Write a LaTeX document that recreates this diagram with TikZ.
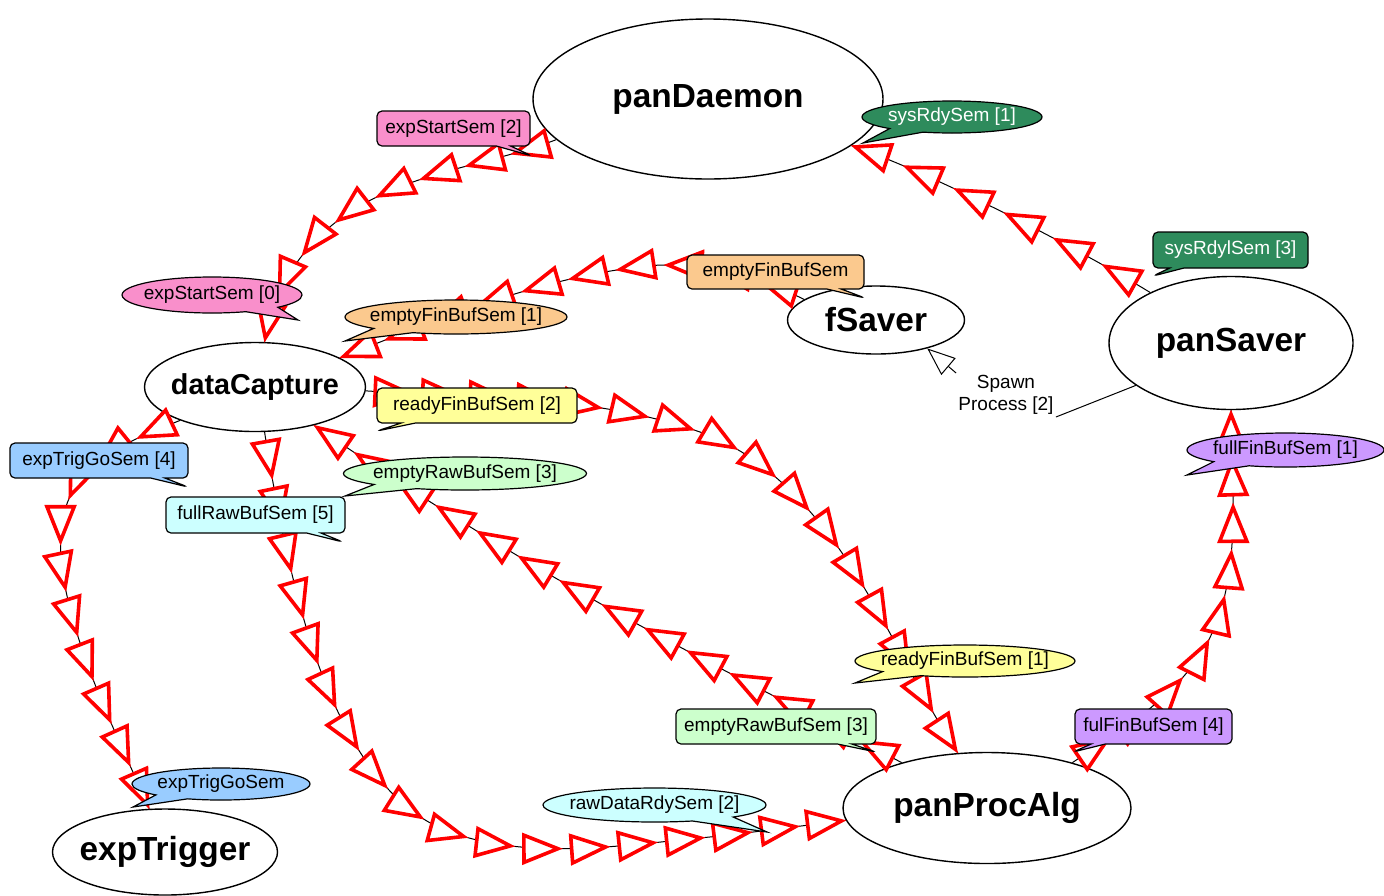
\documentclass[tikz,border=0pt]{standalone}
\usepackage{fontspec}
\setmainfont{Liberation Sans}
\usetikzlibrary{shapes.geometric,shapes.callouts,decorations.markings,arrows.meta}

\definecolor{semPink}{RGB}{249,143,203}
\definecolor{semDark}{RGB}{46,139,92}
\definecolor{semOrange}{RGB}{251,201,142}
\definecolor{semYellow}{RGB}{255,255,153}
\definecolor{semMint}{RGB}{204,255,204}
\definecolor{semSky}{RGB}{153,204,255}
\definecolor{semCyan}{RGB}{204,255,255}
\definecolor{semLilac}{RGB}{204,153,255}

% hollow red triangle placed along a semaphore connector, tip at the mark
\newcommand\semmark{\draw[red, line width=1.8pt, fill=white, line join=miter]
  (-2pt,0pt) -- (-19pt,6.8pt) -- (-19pt,-6.8pt) -- cycle;}
\newcommand\lblfont{\fontsize{9.5}{11}\selectfont}

\tikzset{
  task/.style={ellipse, draw, line width=0.7pt, fill=white, inner sep=-4pt,
    font=\fontsize{16.7}{18}\selectfont\bfseries},
  % #1 = spacing as a fraction of the path, #2 = last position before the end
  flow/.style 2 args={draw, line width=0.5pt, postaction={decorate, decoration={markings,
    mark=between positions #1 and #2 step #1 with {\semmark},
    mark=at position 0.9995 with {\semmark}}}},
  boxnote/.style={rectangle callout, draw, line width=0.6pt, rounded corners=2.5pt,
    inner sep=0pt, font=\lblfont},
  ovalnote/.style={ellipse callout, draw, line width=0.6pt, inner sep=0pt,
    callout pointer arc=25, font=\lblfont},
}

\begin{document}
\begin{tikzpicture}[x=0.5pt, y=-0.5pt]
\useasboundingbox (0,0) rectangle (1384,895);

% tasks
\node[task, minimum width=175pt, minimum height=80pt] (panDaemon) at (708,99) {panDaemon};
\node[task, minimum width=88.5pt, minimum height=34pt] (fSaver) at (876,320) {fSaver};
\node[task, minimum width=122pt, minimum height=66.5pt] (panSaver) at (1231,343) {panSaver};
\node[task, minimum width=110.5pt, minimum height=44.5pt,
      font=\fontsize{14.4}{16}\selectfont\bfseries] (dataCapture) at (255,387) {dataCapture};
\node[task, minimum width=144pt, minimum height=55.5pt] (panProcAlg) at (987,808) {panProcAlg};
\node[task, minimum width=112.5pt, minimum height=43pt] (expTrigger) at (165,852) {expTrigger};

% semaphore connectors
\draw[flow={0.125}{0.94}] (panDaemon.195)
  .. controls +(-55,21) and +(54,-25) .. (383,194)
  .. controls +(-70,32) and +(12,-65) .. (dataCapture.78);
\draw[flow={0.1667}{0.92}] (panSaver.148)
  .. controls +(-70,-43) and +(80,27) .. (panDaemon.342);
\draw[flow={0.1}{0.95}] (fSaver.164)
  .. controls +(-45,-22) and +(50,0) .. (660,265)
  .. controls +(-110,8) and +(100,-39) .. (dataCapture.19);
\draw[flow={0.0625}{0.97}] (dataCapture.358)
  .. controls +(112,7) and +(-106,-37) .. (700,432)
  .. controls +(58,20) and +(-35,-50) .. (840,550)
  .. controls +(45,65) and +(-43,-66) .. (panProcAlg.118);
\draw[flow={0.0714}{0.965}] (panProcAlg.152)
  .. controls +(-90,-48) and +(89,49) .. (630,620)
  .. controls +(-108,-59) and +(101,69) .. (dataCapture.327);
\draw[flow={0.0556}{0.972}] (dataCapture.282)
  .. controls +(11,70) and +(-21,-68) .. (310,640)
  .. controls +(24,75) and +(-74,-27) .. (450,832)
  .. controls +(78,28) and +(-83,8) .. (700,838)
  .. controls +(49,-5) and +(-49,6) .. (panProcAlg.185);
\draw[flow={0.1}{0.95}] (dataCapture.204)
  .. controls +(-39,16) and +(22,-35) .. (75,487)
  .. controls +(-20,32) and +(-9,-37) .. (68,600)
  .. controls +(17,73) and +(-30,-69) .. (expTrigger.110);
\draw[flow={0.1111}{0.944}] (panProcAlg.28)
  .. controls +(46,-31) and +(-31,47) .. (1200,655)
  .. controls +(45,-69) and +(0,82) .. (panSaver.270);

% process spawn
\node[font=\lblfont, align=center, inner sep=1pt] (spawn) at (1006,395) {Spawn\\Process [2]};
\draw[line width=0.5pt] (panSaver.204) -- (spawn.south east);
\draw[line width=0.5pt, -{Triangle[open, length=14pt, width=11pt]}] (spawn.north west) -- (fSaver.331);

% semaphore labels
\node[boxnote, fill=semPink, minimum width=76.5pt, minimum height=17.5pt,
      callout absolute pointer={(532,156)}] (lExpStart2) at (453.5,128.5) {expStartSem [2]};
\node[ovalnote, fill=semPink, minimum width=90pt, minimum height=18pt,
      callout absolute pointer={(298,320)}] (lExpStart0) at (212,295) {\makebox[0pt]{expStartSem [0]}};
\node[ovalnote, fill=semDark, text=white, minimum width=90pt, minimum height=16pt,
      callout absolute pointer={(863,143)}] (lSysRdy1) at (952,117) {\makebox[0pt]{sysRdySem [1]}};
\node[boxnote, fill=semDark, text=white, minimum width=77.5pt, minimum height=18pt,
      callout absolute pointer={(1153,276)}] (lSysRdy3) at (1230.5,250) {sysRdylSem [3]};
\node[boxnote, fill=semOrange, minimum width=88.5pt, minimum height=17pt,
      callout absolute pointer={(865,298)}] (lEmptyFin) at (775.5,272) {emptyFinBufSem};
\node[ovalnote, fill=semOrange, minimum width=111pt, minimum height=17pt,
      callout absolute pointer={(345,341)}] (lEmptyFin1) at (456,317) {\makebox[0pt]{emptyFinBufSem [1]}};
\node[boxnote, fill=semYellow, minimum width=100pt, minimum height=17.5pt,
      callout absolute pointer={(377,431)}] (lReadyFin2) at (477,405.5) {readyFinBufSem [2]};
\node[ovalnote, fill=semYellow, minimum width=110pt, minimum height=16pt,
      callout absolute pointer={(855,683)}] (lReadyFin1) at (965,661) {\makebox[0pt]{readyFinBufSem [1]}};
\node[ovalnote, fill=semMint, minimum width=121.5pt, minimum height=16.5pt,
      callout absolute pointer={(345,496)}] (lEmptyRawA) at (465,473.5) {\makebox[0pt]{emptyRawBufSem [3]}};
\node[boxnote, fill=semMint, minimum width=100pt, minimum height=17.5pt,
      callout absolute pointer={(876,752)}] (lEmptyRawB) at (776,726.5) {emptyRawBufSem [3]};
\node[boxnote, fill=semSky, minimum width=89pt, minimum height=17.5pt,
      callout absolute pointer={(188,487)}] (lTrigGo4) at (99,460.5) {expTrigGoSem [4]};
\node[ovalnote, fill=semSky, minimum width=89pt, minimum height=16pt,
      callout absolute pointer={(133,807)}] (lTrigGo) at (221,784) {\makebox[0pt]{expTrigGoSem}};
\node[boxnote, fill=semCyan, minimum width=89.5pt, minimum height=18pt,
      callout absolute pointer={(343,542)}] (lFullRaw5) at (255.5,515) {fullRawBufSem [5]};
\node[ovalnote, fill=semCyan, minimum width=111.5pt, minimum height=17pt,
      callout absolute pointer={(767,832)}] (lRawRdy2) at (654.5,805) {\makebox[0pt]{rawDataRdySem [2]}};
\node[boxnote, fill=semLilac, minimum width=78.5pt, minimum height=17.5pt,
      callout absolute pointer={(1073,752)}] (lFulFin4) at (1153.5,726.5) {fulFinBufSem [4]};
\node[ovalnote, fill=semLilac, minimum width=98.5pt, minimum height=17pt,
      callout absolute pointer={(1187,475)}] (lFullFin1) at (1285.5,450) {\makebox[0pt]{fullFinBufSem [1]}};
\end{tikzpicture}
\end{document}
